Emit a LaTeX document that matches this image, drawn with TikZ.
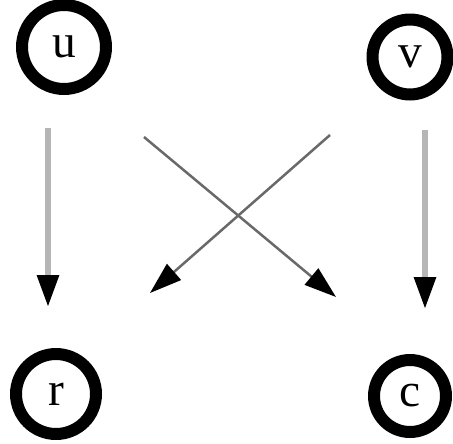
\documentclass[tikz,border=0pt]{standalone}
\usepackage{fontspec}
\setmainfont{Liberation Serif}
\usetikzlibrary{arrows.meta, calc}
\definecolor{edgegray}{RGB}{182,182,182}
\definecolor{crossgray}{RGB}{105,105,105}

\begin{document}
\begin{tikzpicture}[
    x=0.02cm, y=-0.02cm,
    vertex/.style={circle, draw=black, line width=0.24cm, minimum size=#1,
                   inner sep=0pt, font=\fontsize{27}{27}\selectfont},
    vertex/.default=1.56cm,
    tip/.style={-{Triangle[length=0.64cm, width=0.42cm, black]}},
    straight/.style={tip, draw=edgegray, line width=0.12cm},
    cross/.style={tip, draw=crossgray, line width=0.05cm}
]
    \useasboundingbox (0,0) rectangle (453,443);
    % Vertices
    \node[vertex=1.68cm] (u) at (64,47) {u};
    \node[vertex=1.5cm] (v) at (410,57) {v};
    \node[vertex=1.6cm] (r) at (56,394) {r};
    \node[vertex=1.44cm] (c) at (410,396) {c};

    % Straight edges
    \draw[straight] ($(u)+(-16,81)$) -- ($(r)+(-8,-87)$);
    \draw[straight] ($(v)+(15,73)$) -- ($(c)+(15,-87)$);

    % Crossing edges
    \draw[cross] ($(u)+(80,90)$) -- ($(c)+(-74,-99)$);
    \draw[cross] ($(v)+(-80,78)$) -- ($(r)+(94,-101)$);
\end{tikzpicture}
\end{document}
